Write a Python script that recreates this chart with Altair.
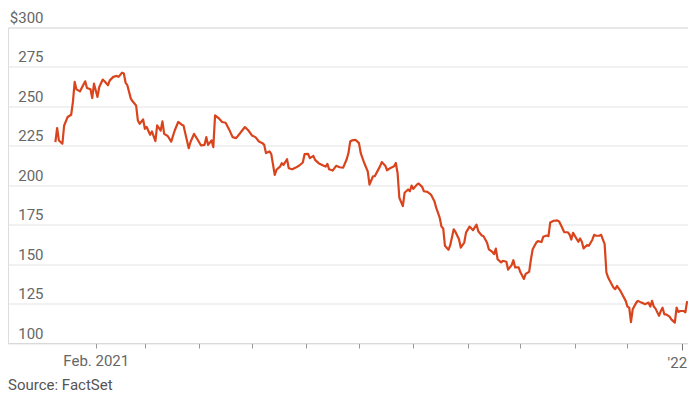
import altair as alt
import pandas as pd

# Trading day offsets from 2021-01-01 and closing prices (USD)
days = [8, 9, 10, 12, 13, 15, 17, 18, 19, 20, 22, 23, 25, 26, 28, 29, 30, 32, 33, 35,
        36, 38, 39, 41, 43, 44, 46, 47, 48, 49, 51, 52, 54, 55, 56, 58, 59, 60, 62, 63,
        65, 66, 68, 69, 70, 72, 74, 76, 78, 80, 81, 84, 85, 87, 89, 91, 93, 94, 95, 97,
        98, 99, 101, 103, 105, 107, 109, 111, 113, 114, 116, 118, 120, 122, 124, 126, 127, 128, 130, 131,
        133, 134, 136, 137, 138, 140, 141, 143, 145, 147, 149, 150, 152, 153, 155, 156, 158, 160, 162, 163,
        164, 166, 168, 170, 172, 174, 175, 176, 177, 179, 181, 182, 184, 186, 187, 189, 190, 192, 193, 194,
        196, 197, 199, 201, 202, 203, 204, 206, 207, 209, 210, 211, 212, 214, 215, 217, 218, 220, 222, 224,
        225, 227, 228, 229, 230, 232, 233, 235, 236, 238, 239, 241, 242, 244, 246, 248, 249, 251, 252, 254,
        255, 257, 258, 259, 260, 262, 263, 265, 266, 268, 269, 270, 272, 273, 275, 276, 278, 279, 280, 282,
        283, 285, 286, 288, 289, 290, 292, 294, 295, 296, 298, 300, 301, 302, 303, 306, 307, 308, 309, 311,
        312, 314, 315, 316, 318, 319, 321, 322, 323, 325, 326, 327, 328, 330, 331, 333, 334, 335, 336, 337,
        339, 340, 342, 343, 344, 346, 347, 348, 349, 350, 352, 353, 354, 355, 356, 358, 359, 361, 362, 363,
        364, 366, 367, 368]
prices = [227.4, 236.3, 228.4, 226.3, 237.9, 243.3, 244.7, 252.8, 265.5, 260.8, 259.5, 261.7, 265.9, 261.7, 260.8, 255.3, 264.4, 256.0, 262.3, 267.0,
          265.9, 263.4, 266.5, 268.7, 269.3, 268.7, 271.4, 270.8, 265.1, 263.4, 254.9, 253.2, 250.6, 241.1, 239.0, 241.7, 235.8, 236.9, 232.0, 234.1,
          228.0, 237.9, 234.7, 240.5, 232.6, 231.2, 227.7, 234.7, 240.1, 238.4, 237.9, 223.5, 227.4, 232.6, 229.0, 225.2, 225.6, 230.5, 225.6, 228.4,
          224.2, 244.3, 242.6, 240.1, 239.6, 235.4, 230.5, 229.9, 232.6, 234.1, 236.9, 234.7, 231.6, 230.5, 227.7, 226.7, 225.6, 220.4, 221.4, 219.9,
          206.6, 209.8, 211.8, 214.0, 212.9, 216.5, 210.8, 210.1, 211.2, 212.5, 214.4, 219.7, 219.9, 217.2, 218.6, 216.1, 214.0, 212.9, 211.8, 213.5,
          210.1, 209.3, 212.3, 211.4, 211.2, 216.5, 220.4, 227.7, 228.4, 228.8, 226.7, 220.4, 214.1, 208.8, 200.4, 205.7, 205.7, 209.9, 212.0, 214.7,
          212.4, 209.5, 211.0, 212.0, 214.1, 207.8, 192.1, 186.8, 195.2, 197.3, 196.2, 199.8, 197.7, 200.4, 201.1, 199.0, 196.2, 195.8, 194.1, 189.9,
          185.8, 179.5, 173.8, 172.6, 161.6, 159.1, 162.0, 172.1, 170.4, 165.8, 160.5, 163.7, 170.0, 173.8, 171.5, 175.0, 170.8, 168.1, 167.7, 163.6,
          159.4, 157.7, 156.3, 159.8, 153.1, 151.1, 152.1, 151.5, 146.5, 149.4, 152.5, 147.9, 147.9, 144.8, 140.6, 143.8, 145.2, 153.1, 159.4, 163.6,
          164.6, 164.0, 167.3, 168.1, 167.7, 176.4, 177.5, 177.7, 177.1, 175.0, 170.2, 170.2, 168.8, 165.6, 169.8, 164.2, 166.3, 164.2, 160.0, 162.1,
          161.6, 165.5, 168.6, 168.0, 168.0, 168.6, 162.7, 144.7, 141.5, 137.3, 135.2, 134.1, 136.2, 133.0, 130.9, 126.7, 123.1, 122.4, 113.3, 121.4,
          125.6, 126.7, 125.6, 125.2, 124.6, 125.6, 123.1, 126.7, 123.1, 121.8, 117.2, 120.3, 122.4, 118.2, 118.2, 116.7, 115.0, 112.9, 122.4, 119.7,
          120.3, 120.3, 119.4, 126.5]

y_ticks = [100, 125, 150, 175, 200, 225, 250, 275, 300]
tick_months = [(2021, m) for m in range(2, 13)] + [(2022, 1)]
source_text = "Source: FactSet"

base = pd.Timestamp("2021-01-01")
df = pd.DataFrame({
    "date": [(base + pd.Timedelta(days=d)).strftime("%Y-%m-%dT00:00:00") for d in days],
    "price": prices,
})

FONT = "Roboto"
LABEL_COLOR = "#666666"

x_enc = alt.X(
    "date:T",
    title=None,
    scale=alt.Scale(domain=[
        alt.DateTime(year=2020, month=12, date=13),
        alt.DateTime(year=2022, month=1, date=4, hours=12),
    ]),
    axis=alt.Axis(
        values=[alt.DateTime(year=y, month=m, date=1) for y, m in tick_months],
        labelExpr="month(datum.value) == 1 ? 'Feb. 2021' : (month(datum.value) == 0 ? \"'22\" : '')",
        grid=False,
        domain=True,
        domainColor="#d9d9d9",
        domainWidth=1,
        ticks=True,
        tickColor={"condition": {"test": "month(datum.value) == 0", "value": "#777777"}, "value": "#999999"},
        tickSize={"condition": {"test": "month(datum.value) == 0", "value": 7}, "value": 5},
        tickWidth=1,
        labelPadding=5,
        labelOffset={"condition": {"test": "month(datum.value) == 0", "value": -5}, "value": 0},
        labelFont=FONT,
        labelFontSize=15,
        labelColor=LABEL_COLOR,
        labelOverlap=False,
    ),
)

y_enc = alt.Y(
    "price:Q",
    title=None,
    scale=alt.Scale(domain=[100, 300], nice=False, zero=False),
    axis=alt.Axis(
        values=y_ticks,
        labelExpr="datum.value == 300 ? '$300' : datum.label",
        grid=True,
        gridColor="#e3e3e3",
        gridWidth=1,
        domain=False,
        ticks=False,
        labelAlign="right",
        labelBaseline="alphabetic",
        labelPadding=-35,
        labelOffset=-5,
        labelFont=FONT,
        labelFontSize=15,
        labelColor=LABEL_COLOR,
    ),
)

chart = (
    alt.Chart(df)
    .mark_line(color="#d9441d", strokeWidth=2.2, strokeJoin="round", clip=True)
    .encode(x=x_enc, y=y_enc)
    .properties(
        width=680,
        height=315.5,
        autosize=alt.AutoSizeParams(type="none"),
        padding={"left": 0, "top": 19.5, "right": 0, "bottom": 51},
        title=alt.TitleParams(
            source_text,
            orient="bottom",
            anchor="start",
            frame="group",
            font=FONT,
            fontSize=15,
            fontWeight="normal",
            color="#555555",
            offset=8,
        ),
    )
    .configure_view(stroke=None)
    .configure(background="white")
)

chart.save("out.html", embed_options={"renderer": "svg", "actions": False})
